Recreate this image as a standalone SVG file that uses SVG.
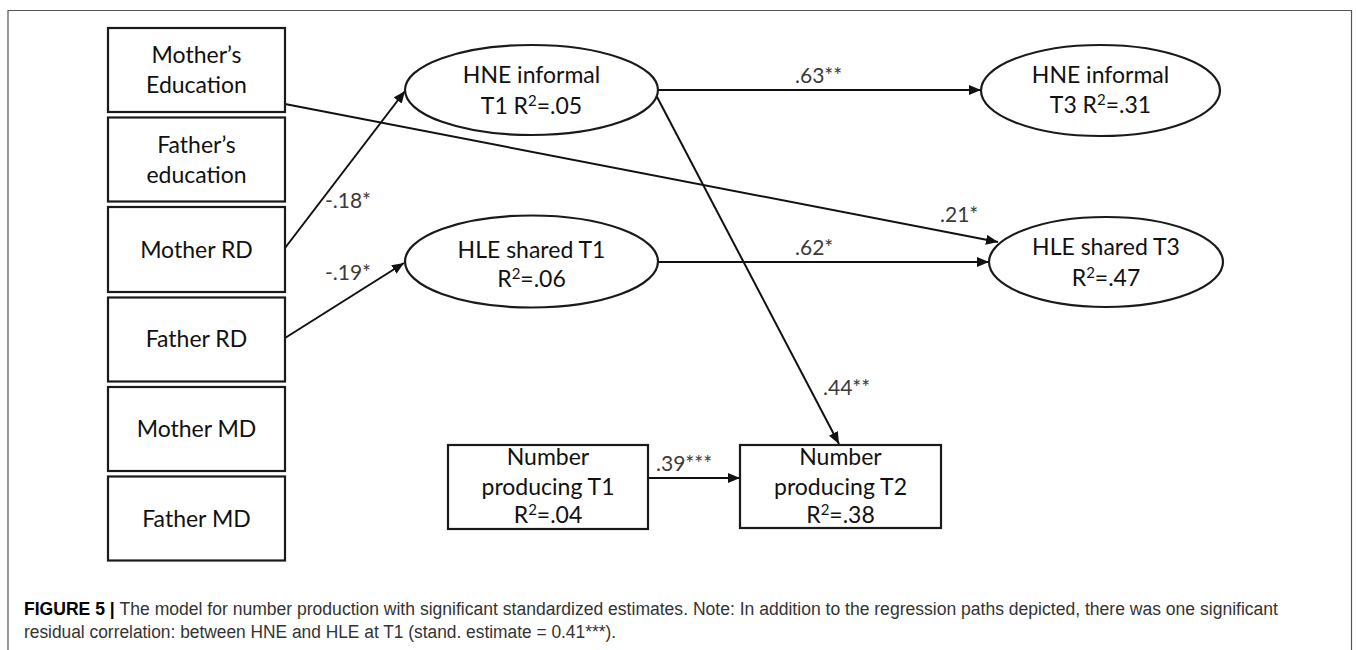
<svg xmlns="http://www.w3.org/2000/svg" width="1356" height="650" viewBox="0 0 1356 650">
<style>
.box{fill:#fff;stroke:#1a1a1a;stroke-width:2.2}
.ell{fill:#fff;stroke:#1a1a1a;stroke-width:2.2}
.t{font-family:Lato,"Open Sans",sans-serif;font-size:23px;fill:#111;text-anchor:middle}
.sup{font-size:15px}
.lab{font-family:Lato,"Open Sans",sans-serif;font-size:21px;fill:#3a3a3a}
.edge{stroke:#111;stroke-width:2;fill:none;marker-end:url(#ah)}
.cap{font-family:"Liberation Sans",Arial,sans-serif;font-size:18px;fill:#333}
</style>
<defs>
<marker id="ah" markerUnits="userSpaceOnUse" markerWidth="12" markerHeight="10" refX="12" refY="5" orient="auto">
<path d="M0,0 L12,5 L0,10 z" fill="#111"/>
</marker>
</defs>
<rect x="0" y="0" width="1356" height="650" fill="#fff"/>
<path d="M8,660 V10.5 H1351.5 V660" fill="none" stroke="#555" stroke-width="1.2"/>

<g id="connectors">
<line class="edge" x1="285" y1="104" x2="998" y2="242"/>
<line class="edge" x1="285" y1="248" x2="405" y2="91"/>
<line class="edge" x1="285" y1="338" x2="404" y2="263"/>
<line class="edge" x1="658" y1="90" x2="981" y2="90"/>
<line class="edge" x1="658" y1="262" x2="989" y2="262"/>
<line class="edge" x1="656" y1="95" x2="839" y2="444"/>
<line class="edge" x1="648" y1="478" x2="740" y2="478"/>
<text class="lab" x="325" y="208">-.18*</text>
<text class="lab" x="325" y="280">-.19*</text>
<text class="lab" x="795" y="83">.63**</text>
<text class="lab" x="795" y="255">.62*</text>
<text class="lab" x="940" y="222">.21*</text>
<text class="lab" x="823" y="395">.44**</text>
<text class="lab" x="656" y="471">.39***</text>
</g>

<g id="mother-education">
<rect class="box" x="108" y="28" width="177" height="84"/>
<text class="t" x="196.5" y="63">Mother’s</text>
<text class="t" x="196.5" y="93">Education</text>
</g>
<g id="father-education">
<rect class="box" x="108" y="117.5" width="177" height="84"/>
<text class="t" x="196.5" y="153">Father’s</text>
<text class="t" x="196.5" y="183">education</text>
</g>
<g id="mother-rd">
<rect class="box" x="108" y="207" width="177" height="85"/>
<text class="t" x="196.5" y="258">Mother RD</text>
</g>
<g id="father-rd">
<rect class="box" x="108" y="297.5" width="177" height="84"/>
<text class="t" x="196.5" y="347">Father RD</text>
</g>
<g id="mother-md">
<rect class="box" x="108" y="387" width="177" height="84"/>
<text class="t" x="196.5" y="437">Mother MD</text>
</g>
<g id="father-md">
<rect class="box" x="108" y="476.5" width="177" height="84"/>
<text class="t" x="196.5" y="527">Father MD</text>
</g>

<g id="hne-t1">
<ellipse class="ell" cx="531.5" cy="90" rx="126.5" ry="45"/>
<text class="t" x="531.5" y="83">HNE informal</text>
<text class="t" x="531.5" y="114">T1 R<tspan class="sup" dy="-8">2</tspan><tspan dy="8">=.05</tspan></text>
</g>
<g id="hle-t1">
<ellipse class="ell" cx="531.5" cy="261.5" rx="126.5" ry="46"/>
<text class="t" x="531.5" y="258">HLE shared T1</text>
<text class="t" x="531.5" y="287">R<tspan class="sup" dy="-8">2</tspan><tspan dy="8">=.06</tspan></text>
</g>
<g id="hne-t3">
<ellipse class="ell" cx="1100.5" cy="90.5" rx="119.5" ry="45.5"/>
<text class="t" x="1100.5" y="83">HNE informal</text>
<text class="t" x="1100.5" y="113">T3 R<tspan class="sup" dy="-8">2</tspan><tspan dy="8">=.31</tspan></text>
</g>
<g id="hle-t3">
<ellipse class="ell" cx="1106" cy="262" rx="117" ry="45"/>
<text class="t" x="1106" y="255">HLE shared T3</text>
<text class="t" x="1106" y="286">R<tspan class="sup" dy="-8">2</tspan><tspan dy="8">=.47</tspan></text>
</g>
<g id="np-t1">
<rect class="box" x="448" y="445" width="200" height="84"/>
<text class="t" x="548" y="465">Number</text>
<text class="t" x="548" y="495">producing T1</text>
<text class="t" x="548" y="523">R<tspan class="sup" dy="-8">2</tspan><tspan dy="8">=.04</tspan></text>
</g>
<g id="np-t2">
<rect class="box" x="740" y="445" width="201" height="83"/>
<text class="t" x="840.5" y="465">Number</text>
<text class="t" x="840.5" y="495">producing T2</text>
<text class="t" x="840.5" y="523">R<tspan class="sup" dy="-8">2</tspan><tspan dy="8">=.38</tspan></text>
</g>

<g id="caption">
<text class="cap" x="24" y="615" textLength="1254" lengthAdjust="spacingAndGlyphs"><tspan font-weight="bold" fill="#000">FIGURE 5 | </tspan>The model for number production with significant standardized estimates. Note: In addition to the regression paths depicted, there was one significant</text>
<text class="cap" x="24" y="638" textLength="592" lengthAdjust="spacingAndGlyphs">residual correlation: between HNE and HLE at T1 (stand. estimate = 0.41***).</text>
</g>
</svg>
